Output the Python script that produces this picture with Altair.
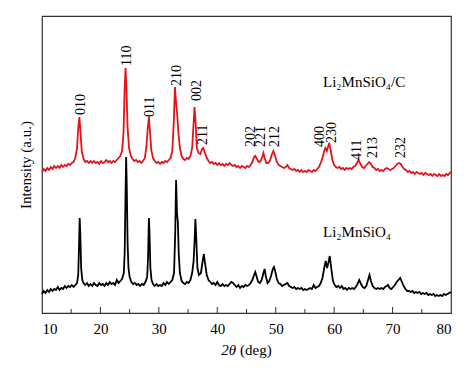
import altair as alt
import pandas as pd

# ---- Li2MnSiO4 (black) : (2theta, intensity) ----
black_pts = [
    (10.0, 19), (10.3, 22), (10.6, 20), (10.9, 23), (11.2, 21), (11.5, 24), (11.8, 22), (12.1, 24),
    (12.4, 23), (12.7, 26), (13.0, 23), (13.3, 25), (13.6, 24), (13.9, 27), (14.2, 25), (14.5, 27),
    (14.8, 26), (15.1, 28), (15.4, 26), (15.7, 28), (16.0, 30), (16.2, 38), (16.35, 70), (16.45, 95),
    (16.55, 80), (16.7, 45), (16.9, 33), (17.1, 30), (17.4, 28), (17.7, 30), (18.0, 27), (18.3, 29),
    (18.6, 27), (18.9, 30), (19.2, 28), (19.5, 27), (19.8, 30), (20.1, 28), (20.4, 29), (20.7, 27),
    (21.0, 30), (21.3, 28), (21.6, 31), (21.9, 29), (22.2, 30), (22.5, 28), (22.8, 33), (23.1, 30),
    (23.4, 32), (23.7, 34), (24.0, 40), (24.15, 60), (24.3, 120), (24.4, 156), (24.5, 130), (24.65, 70),
    (24.8, 45), (25.0, 36), (25.3, 31), (25.6, 29), (25.9, 30), (26.2, 28), (26.5, 29), (26.8, 27),
    (27.1, 29), (27.4, 28), (27.7, 31), (28.0, 36), (28.15, 55), (28.3, 95), (28.4, 80), (28.55, 45),
    (28.75, 33), (29.0, 29), (29.3, 27), (29.6, 29), (29.9, 27), (30.2, 28), (30.5, 27), (30.8, 30),
    (31.1, 28), (31.4, 31), (31.7, 29), (32.0, 31), (32.3, 33), (32.6, 40), (32.8, 80), (32.95, 133),
    (33.1, 100), (33.25, 91), (33.4, 60), (33.6, 40), (33.9, 32), (34.2, 30), (34.5, 29), (34.8, 31),
    (35.1, 30), (35.4, 33), (35.7, 40), (35.95, 52), (36.1, 70), (36.25, 94), (36.4, 75), (36.6, 45),
    (36.85, 38), (37.2, 40), (37.5, 52), (37.7, 59), (37.9, 50), (38.2, 38), (38.5, 33), (38.8, 31),
    (39.1, 29), (39.4, 30), (39.7, 28), (40.0, 31), (40.3, 28), (40.6, 27), (40.9, 29), (41.2, 27),
    (41.5, 28), (41.8, 27), (42.1, 29), (42.4, 31), (42.7, 30), (43.0, 28), (43.3, 26), (43.6, 28),
    (43.9, 25), (44.2, 27), (44.5, 26), (44.8, 28), (45.1, 27), (45.4, 28), (45.7, 30), (46.0, 33),
    (46.3, 38), (46.5, 41), (46.7, 37), (47.0, 31), (47.3, 30), (47.6, 33), (47.9, 40), (48.1, 44),
    (48.3, 37), (48.6, 30), (48.9, 32), (49.2, 37), (49.5, 44), (49.7, 46), (49.9, 42), (50.2, 34),
    (50.5, 30), (50.8, 29), (51.1, 27), (51.4, 28), (51.7, 29), (52.0, 30), (52.3, 27), (52.6, 26),
    (52.9, 25), (53.2, 26), (53.5, 24), (53.8, 25), (54.1, 24), (54.4, 25), (54.7, 23), (55.0, 24),
    (55.3, 23), (55.6, 24), (55.9, 25), (56.2, 24), (56.5, 28), (56.8, 25), (57.1, 26), (57.4, 27),
    (57.7, 30), (58.0, 35), (58.3, 45), (58.55, 52), (58.8, 45), (59.0, 50), (59.25, 57), (59.5, 45),
    (59.8, 32), (60.1, 28), (60.4, 26), (60.7, 27), (61.0, 25), (61.3, 27), (61.6, 24), (61.9, 25),
    (62.2, 23), (62.5, 25), (62.8, 24), (63.1, 25), (63.4, 24), (63.7, 26), (64.0, 29), (64.3, 33),
    (64.6, 29), (64.9, 26), (65.2, 25), (65.5, 27), (65.8, 33), (66.05, 38), (66.3, 32), (66.6, 27),
    (66.9, 25), (67.2, 24), (67.5, 25), (67.8, 24), (68.1, 25), (68.4, 24), (68.7, 26), (69.0, 27),
    (69.2, 28), (69.5, 25), (69.8, 24), (70.1, 26), (70.4, 28), (70.7, 31), (71.0, 33), (71.3, 35),
    (71.6, 31), (71.9, 27), (72.2, 24), (72.5, 22), (72.8, 22), (73.1, 21), (73.4, 22), (73.7, 20),
    (74.0, 21), (74.3, 20), (74.6, 21), (74.9, 19), (75.2, 20), (75.5, 19), (75.8, 20), (76.1, 18),
    (76.4, 19), (76.7, 18), (77.0, 19), (77.3, 17), (77.6, 18), (77.9, 17), (78.2, 18), (78.5, 17),
    (78.8, 19), (79.1, 18), (79.4, 19), (79.7, 20), (80.0, 21),
]

# ---- Li2MnSiO4/C (red) ----
red_pts = [
    (10.0, 141), (10.3, 144), (10.6, 142), (10.9, 145), (11.2, 143), (11.5, 146), (11.8, 144), (12.1, 147),
    (12.4, 145), (12.7, 147), (13.0, 145), (13.3, 148), (13.6, 146), (13.9, 148), (14.2, 147), (14.5, 149),
    (14.8, 148), (15.1, 150), (15.4, 151), (15.7, 155), (16.0, 165), (16.2, 185), (16.4, 196), (16.6, 180),
    (16.8, 162), (17.1, 154), (17.4, 151), (17.7, 152), (18.0, 150), (18.3, 152), (18.6, 150), (18.9, 152),
    (19.2, 150), (19.5, 151), (19.8, 149), (20.1, 152), (20.4, 150), (20.7, 151), (21.0, 153), (21.3, 151),
    (21.6, 152), (21.9, 150), (22.2, 152), (22.5, 151), (22.8, 153), (23.1, 155), (23.4, 157), (23.7, 162),
    (23.95, 180), (24.15, 225), (24.3, 245), (24.45, 225), (24.65, 185), (24.9, 165), (25.2, 157), (25.5, 154),
    (25.8, 152), (26.1, 153), (26.4, 151), (26.7, 152), (27.0, 150), (27.3, 152), (27.6, 155), (27.85, 165),
    (28.1, 185), (28.3, 196), (28.5, 180), (28.7, 163), (29.0, 155), (29.3, 152), (29.6, 150), (29.9, 151),
    (30.2, 149), (30.5, 151), (30.8, 150), (31.1, 152), (31.4, 151), (31.7, 153), (32.0, 155), (32.3, 162),
    (32.55, 190), (32.75, 226), (32.95, 210), (33.15, 198), (33.35, 180), (33.6, 165), (33.9, 157), (34.2, 154),
    (34.5, 153), (34.8, 155), (35.1, 154), (35.4, 157), (35.7, 165), (35.9, 185), (36.1, 206), (36.3, 190),
    (36.5, 165), (36.8, 160), (37.1, 159), (37.4, 164), (37.6, 165), (37.9, 160), (38.2, 155), (38.5, 152),
    (38.8, 150), (39.1, 151), (39.4, 149), (39.7, 150), (40.0, 148), (40.3, 150), (40.6, 148), (40.9, 149),
    (41.2, 147), (41.5, 149), (41.8, 148), (42.1, 150), (42.4, 148), (42.7, 147), (43.0, 148), (43.3, 146),
    (43.6, 147), (43.9, 145), (44.2, 147), (44.5, 146), (44.8, 145), (45.1, 147), (45.4, 146), (45.7, 148),
    (46.0, 151), (46.3, 156), (46.5, 157), (46.8, 154), (47.1, 151), (47.4, 152), (47.7, 156), (47.9, 160),
    (48.1, 155), (48.4, 150), (48.7, 150), (49.0, 152), (49.3, 158), (49.6, 162), (49.9, 157), (50.2, 151),
    (50.5, 148), (50.8, 147), (51.1, 146), (51.4, 145), (51.7, 146), (52.0, 148), (52.3, 145), (52.6, 144),
    (52.9, 143), (53.2, 144), (53.5, 142), (53.8, 143), (54.1, 141), (54.4, 143), (54.7, 141), (55.0, 142),
    (55.3, 141), (55.6, 143), (55.9, 142), (56.2, 141), (56.5, 143), (56.8, 142), (57.1, 144), (57.4, 146),
    (57.7, 150), (58.0, 155), (58.3, 162), (58.5, 165), (58.75, 162), (59.0, 167), (59.15, 170), (59.4, 163),
    (59.7, 153), (60.0, 148), (60.3, 146), (60.6, 145), (60.9, 146), (61.2, 144), (61.5, 145), (61.8, 143),
    (62.1, 145), (62.4, 144), (62.7, 145), (63.0, 144), (63.3, 146), (63.6, 147), (63.9, 150), (64.2, 153),
    (64.5, 149), (64.8, 146), (65.1, 145), (65.4, 147), (65.7, 149), (66.0, 151), (66.3, 149), (66.6, 146),
    (66.9, 145), (67.2, 143), (67.5, 144), (67.8, 142), (68.1, 143), (68.4, 142), (68.7, 144), (69.0, 145),
    (69.3, 144), (69.6, 143), (69.9, 144), (70.2, 145), (70.5, 147), (70.8, 149), (71.1, 150), (71.4, 149),
    (71.7, 146), (72.0, 144), (72.3, 143), (72.6, 141), (72.9, 142), (73.2, 140), (73.5, 141), (73.8, 139),
    (74.1, 141), (74.4, 140), (74.7, 139), (75.0, 140), (75.3, 138), (75.6, 140), (75.9, 139), (76.2, 138),
    (76.5, 139), (76.8, 137), (77.1, 139), (77.4, 138), (77.7, 137), (78.0, 139), (78.3, 137), (78.6, 138),
    (78.9, 137), (79.2, 139), (79.5, 138), (79.8, 140), (80.0, 141),
]

# ---- Miller index labels ----
hkl_text = ["010", "110", "011", "210", "002", "211", "202", "221", "212", "400", "230", "411", "213", "232"]
hkl_x = [16.62, 24.50, 28.48, 33.05, 36.48, 37.60, 45.72, 47.48, 49.88, 57.58, 59.58, 63.86, 66.70, 71.39]
hkl_y = [198, 247, 196, 227, 212, 168, 166, 166, 166, 166, 170, 153, 155, 155]

x_label_values = [10, 20, 30, 40, 50, 60, 70, 80]
major_ticks = [20, 30, 40, 50, 60, 70]
minor_ticks = [15, 25, 35, 45, 55, 65, 75]

series_names = ["Li\u2082MnSiO\u2084/C", "Li\u2082MnSiO\u2084"]
series_colors = ["#e4121b", "#000000"]

black_df = pd.DataFrame(black_pts, columns=["x", "y"])
red_df = pd.DataFrame(red_pts, columns=["x", "y"])
hkl_df = pd.DataFrame({"t": hkl_text, "x": hkl_x, "y": hkl_y})

W, H = 409, 297
FONT = "Liberation Serif"

xs = alt.Scale(domain=[10, 80], nice=False, zero=False)
ys = alt.Scale(domain=[0, 297], nice=False, zero=False)

x_axis = alt.Axis(values=x_label_values, ticks=False, domain=False, grid=False,
                  labelPadding=8, title=None, labelFont=FONT, labelFontSize=15,
                  labelColor="black", format="d")
y_axis = alt.Axis(labels=False, ticks=False, domain=False, grid=False,
                  title="Intensity (a.u.)", titleFont=FONT, titleFontSize=15,
                  titleFontWeight="normal", titleColor="black", titlePadding=9)

X = alt.X("x:Q", scale=xs, axis=x_axis)
Y = alt.Y("y:Q", scale=ys, axis=y_axis)

black_line = alt.Chart(black_df).mark_line(color=series_colors[1], strokeWidth=1.8).encode(x=X, y=Y)
red_line = alt.Chart(red_df).mark_line(color=series_colors[0], strokeWidth=1.8).encode(x=X, y=Y)

major = alt.Chart(pd.DataFrame({"x": major_ticks})).mark_rule(color="#333", strokeWidth=1).encode(
    x=X, y=alt.value(H), y2=alt.value(H - 6))
minor = alt.Chart(pd.DataFrame({"x": minor_ticks})).mark_rule(color="#333", strokeWidth=1).encode(
    x=X, y=alt.value(H), y2=alt.value(H - 4))

hkl = alt.Chart(hkl_df).mark_text(angle=270, align="left", baseline="middle", font=FONT,
                                  fontSize=14, color="black").encode(x=X, y=Y, text="t:N")

name_red = alt.Chart(pd.DataFrame({"t": [series_names[0]]})).mark_text(
    align="left", baseline="alphabetic", font=FONT, fontSize=15, color="black").encode(
    x=alt.value(281), y=alt.value(71), text="t:N")
name_black = alt.Chart(pd.DataFrame({"t": [series_names[1]]})).mark_text(
    align="left", baseline="alphabetic", font=FONT, fontSize=15, color="black").encode(
    x=alt.value(281), y=alt.value(221), text="t:N")

xt1 = alt.Chart(pd.DataFrame({"t": ["2\u03b8"]})).mark_text(
    align="right", baseline="alphabetic", font=FONT, fontSize=15, fontStyle="italic", color="black").encode(
    x=alt.value(194), y=alt.value(339), text="t:N")
xt2 = alt.Chart(pd.DataFrame({"t": ["(deg)"]})).mark_text(
    align="left", baseline="alphabetic", font=FONT, fontSize=15, color="black").encode(
    x=alt.value(198), y=alt.value(339), text="t:N")

chart = alt.layer(black_line, red_line, major, minor, hkl, name_red, name_black, xt1, xt2).properties(
    width=W, height=H,
    autosize="none",
    padding={"left": 34, "top": 8, "right": 15, "bottom": 55},
).configure(background="white").configure_view(stroke="#333", strokeWidth=1.2)

chart.save("out.html", embed_options={"renderer": "svg", "actions": False})
